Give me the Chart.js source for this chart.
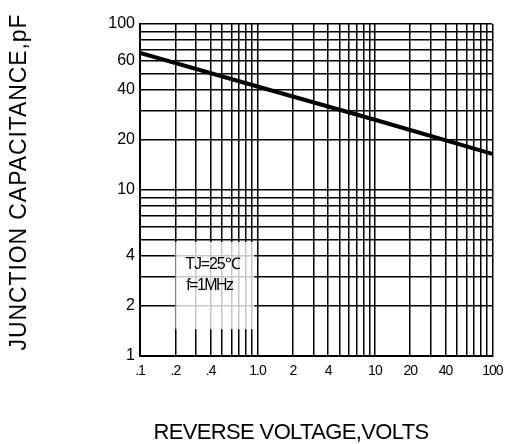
<!DOCTYPE html>
<html>
<head>
<meta charset="utf-8">
<script src="https://cdn.jsdelivr.net/npm/chart.js@4"></script>
<style>
  html, body { margin: 0; padding: 0; background: #fff; }
  #wrap { width: 511px; height: 444px; }
</style>
</head>
<body>
<div id="wrap"><canvas id="myChart" width="511" height="444"></canvas></div>
<script>
// reverse voltage (V) vs junction capacitance (pF)
var voltage = [0.1, 1, 10, 100];
var capacitance = [67, 42, 26.5, 16.5];

var xLabels = {0.1: '.1', 0.2: '.2', 0.4: '.4', 1: '1.0', 2: '2', 4: '4', 10: '10', 20: '20', 40: '40', 100: '100'};
var yLabels = {1: '1', 2: '2', 4: '4', 10: '10', 20: '20', 40: '40', 60: '60', 100: '100'};

var noteLines = ['TJ=25\u2103', 'f=1MHz'];
var FONT = '"Liberation Sans", Arial, sans-serif';

function logTicks(lo, hi) {
    var t = [];
    for (var d = lo; d < hi; d *= 10) {
        for (var m = 1; m < 10; m++) t.push({value: +(m * d).toPrecision(3)});
    }
    t.push({value: hi});
    return t;
}

// squeeze / stretch a string so it covers a given width
function fitText(c, txt, x, y, w) {
    c.letterSpacing = '0px';
    var nat = c.measureText(txt).width;
    c.letterSpacing = ((w - nat) / txt.length) + 'px';
    c.fillText(txt, x, y);
    c.letterSpacing = '0px';
}

var titlesAndNote = {
    id: 'titlesAndNote',
    afterDraw: function (chart) {
        var c = chart.ctx, xs = chart.scales.x, ys = chart.scales.y;
        // note box, a bit see-through like the scan
        var l = xs.getPixelForValue(0.2), r = xs.getPixelForValue(0.94);
        var t = ys.getPixelForValue(5) + 2, b = ys.getPixelForValue(1.45);
        c.save();
        c.fillStyle = 'rgba(255,255,255,0.78)';
        c.fillRect(l, t, r - l, b - t);
        c.fillStyle = '#000';
        c.font = '16px ' + FONT;
        c.textAlign = 'left';
        c.textBaseline = 'alphabetic';
        fitText(c, noteLines[0], l + 10, t + 27, 54);
        fitText(c, noteLines[1], l + 11, t + 48, 46);
        // axis titles
        c.font = '22px ' + FONT;
        c.textAlign = 'center';
        fitText(c, 'REVERSE VOLTAGE,VOLTS', 291, 439, 275);
        c.font = '23px ' + FONT;
        c.translate(26, 182);
        c.rotate(-Math.PI / 2);
        fitText(c, 'JUNCTION CAPACITANCE,pF', 0, 0, 337);
        c.restore();
    }
};

function tightLabels(s) {
    if (s._tight) return;
    s._tight = true;
    var orig = s.drawLabels;
    s.drawLabels = function (area) {
        var c = this.ctx;
        c.save();
        c.letterSpacing = '-1px';
        orig.call(this, area);
        c.restore();
    };
}

var ctx = document.getElementById('myChart');
var chart = new Chart(ctx, {
    type: 'scatter',
    data: {
        datasets: [{
            data: voltage.map(function (v, i) { return {x: v, y: capacitance[i]}; }),
            showLine: true,
            borderColor: '#000',
            borderWidth: 4,
            pointRadius: 0,
            tension: 0
        }]
    },
    options: {
        responsive: false,
        animation: false,
        layout: {padding: {left: 0, right: 15, top: 24, bottom: 0}},
        plugins: {legend: {display: false}, tooltip: {enabled: false}},
        scales: {
            x: {
                type: 'logarithmic',
                min: 0.1,
                max: 100,
                afterBuildTicks: function (s) { s.ticks = logTicks(0.1, 100); },
                afterFit: function (s) { s.height = 88; tightLabels(s); },
                grid: {color: '#000', lineWidth: 1.5, drawTicks: false},
                border: {color: '#000', width: 2},
                ticks: {
                    autoSkip: false,
                    maxRotation: 0,
                    padding: 7,
                    color: '#000',
                    font: {family: FONT, size: 14},
                    callback: function (v) { return xLabels[+v.toPrecision(3)] || ''; }
                }
            },
            y: {
                type: 'logarithmic',
                min: 1,
                max: 100,
                afterBuildTicks: function (s) { s.ticks = logTicks(1, 100); },
                afterFit: function (s) { s.width = 140; },
                grid: {color: '#000', lineWidth: 1.5, drawTicks: false},
                border: {color: '#000', width: 2},
                ticks: {
                    autoSkip: false,
                    padding: 5,
                    color: '#000',
                    font: {family: FONT, size: 16},
                    callback: function (v) { return yLabels[+v.toPrecision(3)] || ''; }
                }
            }
        }
    },
    plugins: [titlesAndNote]
});
</script>
</body>
</html>
